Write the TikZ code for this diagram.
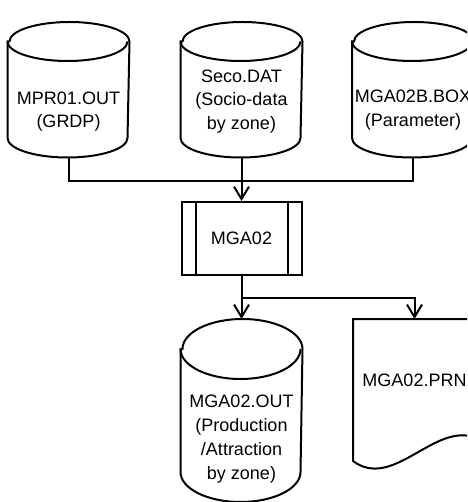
\documentclass[tikz,border=0pt]{standalone}
\usepackage{fontspec}
\setmainfont{Liberation Sans}
\usetikzlibrary{arrows.meta,calc}

% Cylinder outline (data store) built on the extent of a named node; #2 = ellipse half-height in pt
\newcommand\cylpath[2]{%
  \filldraw[fill=white] ($(#1.north west)+(0,-#2)$) -- ($(#1.south west)+(0,#2)$)
    arc[start angle=180,end angle=360,x radius=60pt,y radius=#2 pt]
    -- ($(#1.north east)+(0,-#2)$)
    arc[start angle=0,end angle=180,x radius=60pt,y radius=#2 pt] -- cycle;
  \draw ($(#1.north west)+(0,-#2)$)
    arc[start angle=180,end angle=360,x radius=60pt,y radius=#2 pt];}

\begin{document}
\begin{tikzpicture}[x=1pt,y=1pt,line width=2pt,
  every node/.style={font=\fontsize{18}{23.5}\selectfont},
  shapebox/.style={draw=none,inner sep=0pt,minimum width=120pt},
  txt/.style={align=center,inner sep=0pt},
  procbox/.style={draw,fill=white,inner sep=0pt,minimum width=120pt,minimum height=73pt},
  flow/.style={-{Straight Barb[length=12.5pt,width=15pt]}}]

\useasboundingbox (0,0) rectangle (467,-502);
\clip (0,0) rectangle (467,-502);

% extents of the stores, the program and the report
\node[shapebox,minimum height=133.5pt] (mpr)  at (68.5,-89.75) {};
\node[shapebox,minimum height=133.5pt] (seco) at (241.5,-89.75) {};
\node[shapebox,minimum height=133.5pt] (mgab) at (413,-89.75) {};
\node[shapebox,minimum height=181pt]   (out)  at (241.5,-410.5) {};
\node[shapebox,minimum width=121pt,minimum height=140pt] (prn) at (414.5,-390) {};

% input files
\cylpath{mpr}{19.5}
\cylpath{seco}{19.5}
\cylpath{mgab}{19.5}
% output file
\cylpath{out}{30}

% printed report
\filldraw[fill=white] (prn.north west) -- (prn.south west)
  .. controls ($(prn.south west)+(40,-30)$) and ($(prn.south east)+(-41,40)$) ..
  ($(prn.south east)+(0,23)$) -- (prn.north east) -- cycle;

% program with side bars
\node[procbox] (mga) at (241.5,-238.5) {MGA02};
\draw ($(mga.north west)+(15,0)$) -- ($(mga.south west)+(15,0)$);
\draw ($(mga.north east)+(-15,0)$) -- ($(mga.south east)+(-15,0)$);

% labels
\node[txt] (mprT)  at (68.5,-111.5) {MPR01.OUT\\(GRDP)};
\node[txt] (secoT) at (241.5,-101.5) {Seco.DAT\\(Socio-data\\by zone)};
\node[txt] (mgabT) at (413,-110) {MGA02B.BOX\\(Parameter)};
\node[txt,font=\fontsize{18}{24}\selectfont] (outT) at (241.5,-439.5)
  {MGA02.OUT\\(Production\\/Attraction\\by zone)};
\node[txt] (prnT)  at (414.5,-380) {MGA02.PRN};

% connectors
\coordinate (join)  at ($(seco.south)+(0,-23.5)$);
\coordinate (split) at ($(mga.south)+(0,-22)$);
\draw (mpr.south) |- (join);
\draw (mgab.south) |- (join);
\draw[flow] (seco.south) -- (mga.north);
\draw[flow] (mga.south) -- (out.north);
\draw[flow] (split) -| (prn.north);
\end{tikzpicture}
\end{document}
